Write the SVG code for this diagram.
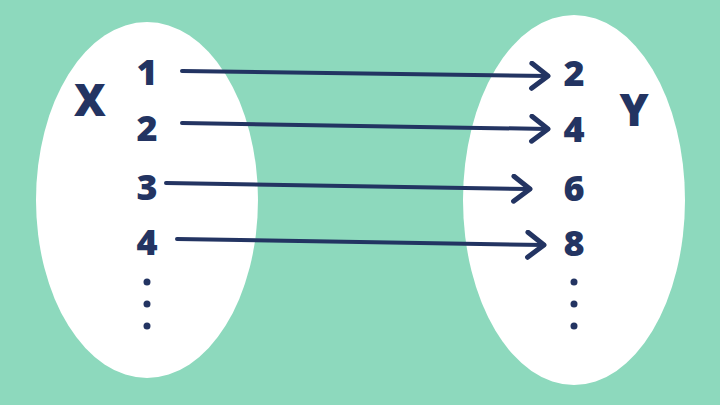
<svg xmlns="http://www.w3.org/2000/svg" width="720" height="405" viewBox="0 0 720 405">
<style>
.set{fill:#ffffff}
.lbl{font-family:"Open Sans","Liberation Sans",sans-serif;font-weight:800;fill:#233462;text-anchor:middle}
.num{font-size:36px}
.big{font-size:44px}
.edge{fill:none;stroke:#233462;stroke-width:4;stroke-linecap:round}
.dot{fill:#233462}
</style>
<defs>
<marker id="arr" markerUnits="userSpaceOnUse" markerWidth="30" markerHeight="30" viewBox="-16 -12 20 24" refX="0" refY="0" orient="auto">
<path d="M-13,-10 L0,0 L-13,10" fill="none" stroke="#233462" stroke-width="4" stroke-linecap="round" stroke-linejoin="round"/>
</marker>
</defs>
<rect width="720" height="405" fill="#8dd9bd"/>
<g id="setX">
<ellipse class="set" cx="147" cy="200" rx="111" ry="178"/>
<text class="lbl big" x="90" y="116">X</text>
</g>
<g id="setY">
<ellipse class="set" cx="574" cy="200" rx="111" ry="185"/>
<text class="lbl big" x="634" y="126">Y</text>
</g>
<g id="x1"><text class="lbl num" x="147" y="85">1</text></g>
<g id="x2"><text class="lbl num" x="147" y="141">2</text></g>
<g id="x3"><text class="lbl num" x="147" y="200">3</text></g>
<g id="x4"><text class="lbl num" x="147" y="255">4</text></g>
<g id="xdots"><circle class="dot" cx="147" cy="282" r="3.5"/><circle class="dot" cx="147" cy="304" r="3.5"/><circle class="dot" cx="147" cy="326" r="3.5"/></g>
<g id="y2"><text class="lbl num" x="574" y="86">2</text></g>
<g id="y4"><text class="lbl num" x="574" y="142">4</text></g>
<g id="y6"><text class="lbl num" x="574" y="201">6</text></g>
<g id="y8"><text class="lbl num" x="574" y="256">8</text></g>
<g id="ydots"><circle class="dot" cx="574" cy="282" r="3.5"/><circle class="dot" cx="574" cy="304" r="3.5"/><circle class="dot" cx="574" cy="326" r="3.5"/></g>
<g id="connectors">
<path class="edge" d="M182,71 L548,76" marker-end="url(#arr)"/>
<path class="edge" d="M182,123 L548,129" marker-end="url(#arr)"/>
<path class="edge" d="M166,183 L530,189" marker-end="url(#arr)"/>
<path class="edge" d="M177,239 L544,245" marker-end="url(#arr)"/>
</g>
</svg>
